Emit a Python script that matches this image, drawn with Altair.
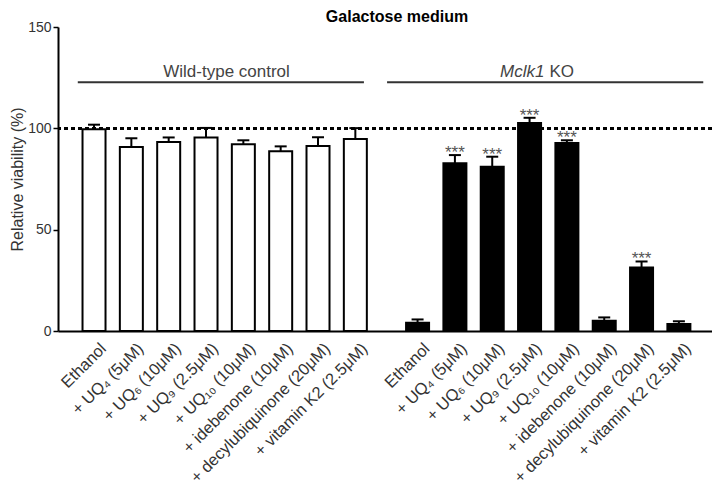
import altair as alt
import pandas as pd

# ---- data ----
groups = ["Wild-type control", "Mclk1 KO"]
treatments = [
    "Ethanol",
    "+ UQ₄ (5μM)",
    "+ UQ₆ (10μM)",
    "+ UQ₉ (2.5μM)",
    "+ UQ₁₀ (10μM)",
    "+ idebenone (10μM)",
    "+ decylubiquinone (20μM)",
    "+ vitamin K2 (2.5μM)",
]
wt_mean = [99.6, 90.8, 93.2, 95.5, 92.1, 88.7, 91.3, 94.7]
wt_err = [2.2, 4.3, 2.3, 4.7, 2.0, 2.4, 4.3, 5.4]
ko_mean = [4.1, 82.8, 81.1, 102.6, 92.8, 5.1, 31.3, 3.4]
ko_err = [1.6, 4.0, 4.9, 2.6, 1.3, 1.6, 3.0, 1.4]
wt_sig = ["", "", "", "", "", "", "", ""]
ko_sig = ["", "***", "***", "***", "***", "", "***", ""]
group_start = [0.0, 8.667]          # slot of first bar of each group
group_span_from = [-0.435, 7.85]    # bracket lines over each group
group_span_to = [7.23, 16.32]
group_label_pos = [3.55, 11.88]
bracket_level = 122.8
bracket_label_level = 127.8
ref_level = 100
y_ticks = [0, 50, 100, 150]

FONT = "Liberation Sans"

rows = []
for g, means, errs, sigs, start in zip(groups, [wt_mean, ko_mean], [wt_err, ko_err],
                                       [wt_sig, ko_sig], group_start):
    for i, t in enumerate(treatments):
        rows.append(dict(group=g, treatment=t, pos=start + i, mean=means[i],
                         top=means[i] + errs[i], sig=sigs[i]))
df = pd.DataFrame(rows)

brackets = pd.DataFrame({"group": groups, "x1": group_span_from, "x2": group_span_to,
                         "y": [bracket_level] * 2, "xc": group_label_pos,
                         "ly": [bracket_label_level] * 2})

xs = alt.Scale(domain=[-0.831, 16.42], nice=False, zero=False)
ys = alt.Scale(domain=[0, 150], nice=False)
x_axis = alt.Axis(labels=False, ticks=False, grid=False, domainWidth=2, domainColor="black")
y_axis = alt.Axis(values=y_ticks, tickSize=5, tickWidth=1.5, tickColor="black",
                  domainWidth=2, domainColor="black", labelFontSize=14, labelColor="#333",
                  labelPadding=2, labelFont=FONT, grid=False,
                  titleFontSize=16, titleFontWeight="normal", titleColor="#333",
                  titleFont=FONT, titlePadding=2)
Y_TITLE = "Relative viability (%)"


def X(f):
    return alt.X(f, type="quantitative", scale=xs, axis=x_axis, title=None)


def Y(f):
    return alt.Y(f, type="quantitative", scale=ys, axis=y_axis, title=Y_TITLE)


base = alt.Chart(df)

ref = base.mark_rule(strokeDash=[4, 3], strokeWidth=1.6, color="black").encode(
    y=alt.Y(datum=ref_level, type="quantitative", scale=ys, axis=y_axis, title=Y_TITLE))

bars = base.mark_bar(size=23, stroke="black", strokeWidth=2, orient="vertical").encode(
    x=X("pos"), y=Y("mean"),
    fill=alt.Fill("group:N", scale=alt.Scale(domain=groups, range=["white", "black"]),
                  legend=None))

err = base.mark_rule(strokeWidth=2, color="black").encode(
    x=X("pos"), y=Y("mean"), y2=alt.Y2("top"))

cap = base.mark_rule(strokeWidth=2, color="black", xOffset=-6, x2Offset=6).encode(
    x=X("pos"), x2=alt.X2("pos"), y=Y("top"))

stars = base.mark_text(fontSize=17, dy=3, baseline="alphabetic", color="#555",
                       font=FONT).encode(x=X("pos"), y=Y("top"), text="sig:N")

# dx/dy are applied in the rotated frame of the label
xlabels = base.mark_text(angle=315, align="right", baseline="top", dx=-4, dy=9.5,
                         fontSize=16.4, color="#333", font=FONT).encode(
    x=X("pos"), y=alt.Y(datum=0, type="quantitative", scale=ys, axis=y_axis, title=Y_TITLE),
    text="treatment:N")

bchart = alt.Chart(brackets)
blines = bchart.mark_rule(strokeWidth=2, color="#333").encode(
    x=X("x1"), x2=alt.X2("x2"), y=Y("y"))

wt_text = bchart.transform_filter(alt.datum.group == groups[0]).mark_text(
    fontSize=17, color="#444", font=FONT, baseline="middle").encode(
    x=X("xc"), y=Y("ly"), text="group:N")

ko_italic = bchart.transform_filter(alt.datum.group == groups[1]).transform_calculate(
    lab="split(datum.group, ' ')[0]").mark_text(
    fontSize=17, color="#444", font=FONT, baseline="middle", align="right",
    fontStyle="italic", dx=7).encode(x=X("xc"), y=Y("ly"), text="lab:N")

ko_plain = bchart.transform_filter(alt.datum.group == groups[1]).transform_calculate(
    lab="split(datum.group, ' ')[1]").mark_text(
    fontSize=17, color="#444", font=FONT, baseline="middle", align="left",
    dx=12).encode(x=X("xc"), y=Y("ly"), text="lab:N")

chart = alt.layer(ref, bars, err, cap, stars, xlabels, blines, wt_text, ko_italic,
                  ko_plain).properties(
    width=654, height=304,
    title=alt.TitleParams("Galactose medium", fontSize=16, fontWeight="bold",
                          color="black", font=FONT, anchor="middle", dx=12, dy=7,
                          offset=2),
    autosize=alt.AutoSizeParams(type="none"),
    padding={"left": 50, "top": 19, "right": 0, "bottom": 170},
).configure_view(stroke=None)

chart.save("out.html", embed_options={"renderer": "svg", "actions": False})
